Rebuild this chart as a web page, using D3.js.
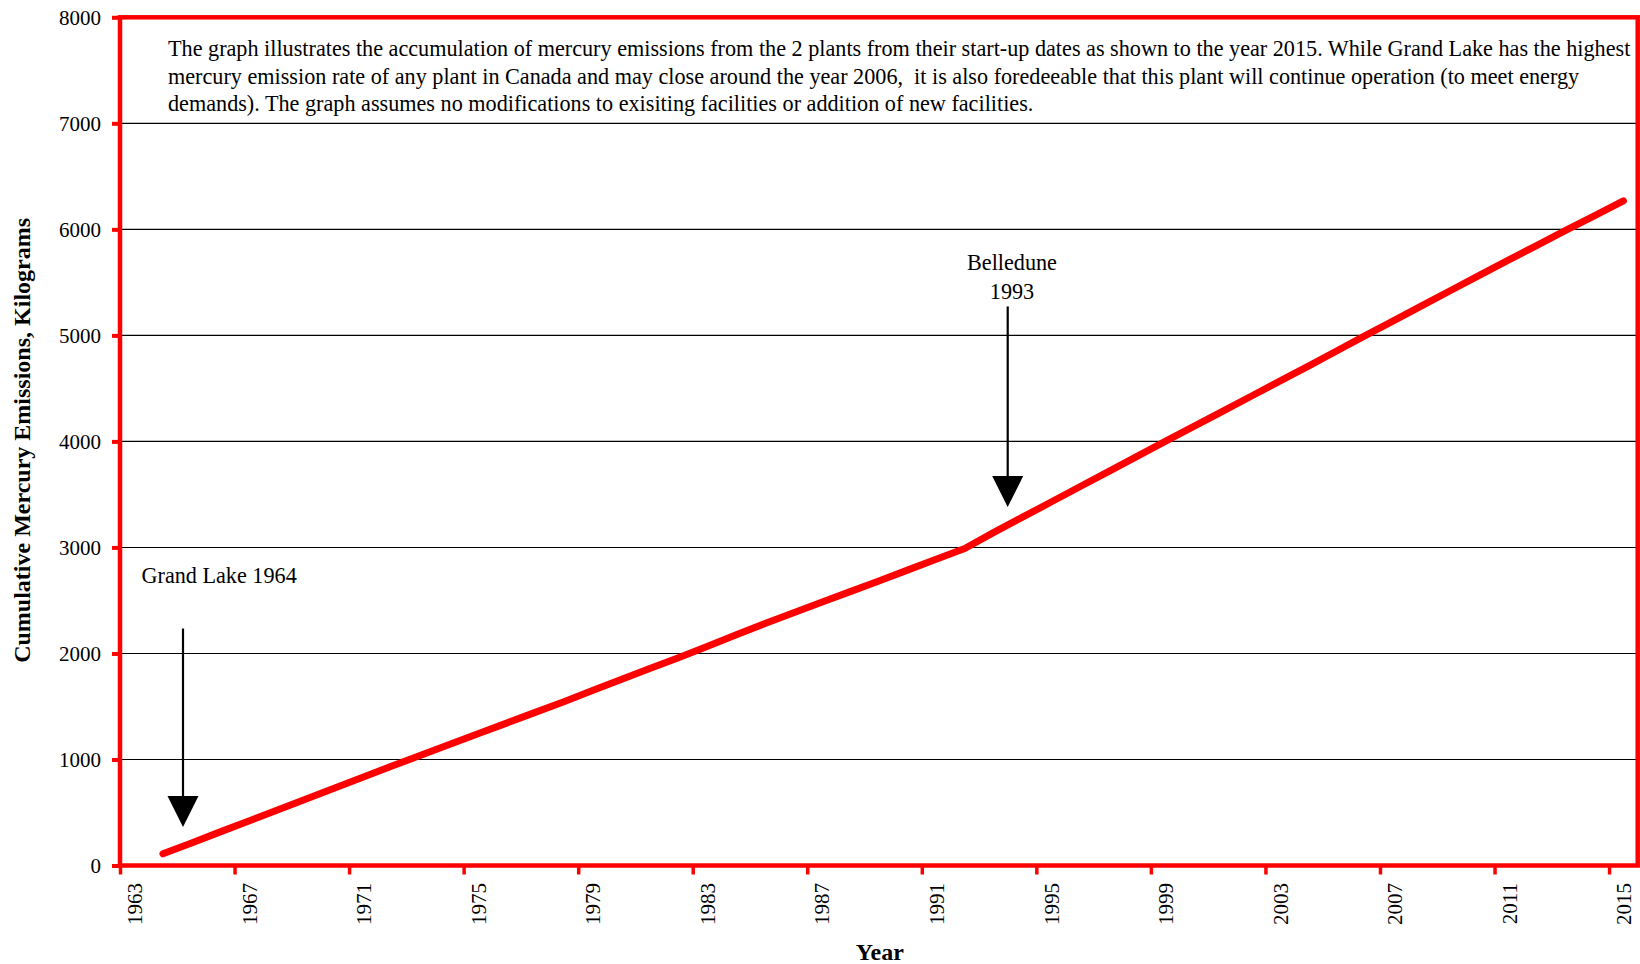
<!DOCTYPE html>
<html>
<head>
<meta charset="utf-8">
<script src="https://cdn.jsdelivr.net/npm/d3@7"></script>
<style>
  html, body { margin: 0; padding: 0; background: #fff; }
  svg { display: block; }
  text { font-family: "Liberation Serif", "Times New Roman", serif; fill: #000; }
</style>
</head>
<body>
<svg id="chart" width="1640" height="964"></svg>
<script>
// Cumulative mercury emissions (kg) by year, Grand Lake from 1964, Belledune added from 1993
const years = d3.range(1964, 2016);
const emissions = [
  110, 213, 317, 420, 524, 627, 731, 834, 938, 1040,
  1141, 1242, 1343, 1444, 1545, 1650, 1755, 1858, 1960, 2066,
  2175, 2280, 2382, 2483, 2583, 2684, 2786, 2888, 2990, 3140,
  3283, 3426, 3570, 3713, 3857, 4000, 4142, 4284, 4426, 4568,
  4710, 4855, 5000, 5142, 5285, 5428, 5570, 5712, 5852, 5992,
  6130, 6268
];
const xTickYears = d3.range(1963, 2016, 4);
const yTickValues = d3.range(0, 8001, 1000);
const gridValues = d3.range(1000, 8000, 1000);

const noteLines = [
  "The graph illustrates the accumulation of mercury emissions from the 2 plants from their start-up dates as shown to the year 2015. While Grand Lake has the highest",
  "mercury emission rate of any plant in Canada and may close around the year 2006,  it is also foredeeable that this plant will continue operation (to meet energy",
  "demands). The graph assumes no modifications to exisiting facilities or addition of new facilities."
];

// Plant start-up markers: label lines, arrow year, arrow start / tip values
const markerNames = [["Grand Lake 1964"], ["Belledune", "1993"]];
const markerYears = [1965.2, 1994.0];
const markerFrom = [2235, 5273];
const markerTo = [364, 3381];

const svg = d3.select("#chart");
const W = 1640, H = 964;
const plotLeft = 120, plotRight = 1637.7, plotTop = 17.3, plotBottom = 865.5;

const x = d3.scaleLinear().domain([1963, 2016]).range([plotLeft, plotRight]);
const y = d3.scaleLinear().domain([0, 8000]).range([plotBottom, plotTop]);

svg.append("rect").attr("width", W).attr("height", H).attr("fill", "#fff");

// horizontal gridlines
svg.append("g")
  .selectAll("line")
  .data(gridValues)
  .join("line")
  .attr("x1", plotLeft).attr("x2", plotRight)
  .attr("y1", d => y(d)).attr("y2", d => y(d))
  .attr("stroke", "#000").attr("stroke-width", 1.1);

// explanatory note
const note = svg.append("text")
  .attr("x", 168)
  .attr("y", 56)
  .style("font-size", "22.2px")
  .style("white-space", "pre");
note.selectAll("tspan")
  .data(noteLines)
  .join("tspan")
  .attr("x", 168)
  .attr("dy", (d, i) => i === 0 ? 0 : 27.7)
  .text(d => d);

// y axis
const yAxis = svg.append("g")
  .attr("transform", `translate(${plotLeft},0)`)
  .call(d3.axisLeft(y).tickValues(yTickValues).tickSize(8).tickPadding(11).tickFormat(d3.format("d")));
yAxis.select(".domain").remove();
yAxis.selectAll(".tick line").attr("stroke", "#f00").attr("stroke-width", 4);
yAxis.selectAll(".tick text")
  .style("font-family", "Liberation Serif")
  .style("font-size", "21px")
  .attr("fill", "#000");

// x axis
const xAxis = svg.append("g")
  .attr("transform", `translate(0,${plotBottom})`)
  .call(d3.axisBottom(x).tickValues(xTickYears).tickSize(9).tickFormat(d3.format("d")));
xAxis.select(".domain").remove();
xAxis.selectAll(".tick line").attr("stroke", "#f00").attr("stroke-width", 3.5);
xAxis.selectAll(".tick text")
  .style("font-family", "Liberation Serif")
  .style("font-size", "21px")
  .attr("fill", "#000")
  .attr("text-anchor", "end")
  .attr("y", null)
  .attr("transform", `translate(${x(1963.5) - x(1963)},17.5) rotate(-90)`)
  .attr("dy", "0.35em");

// plot frame
svg.append("rect")
  .attr("x", plotLeft).attr("y", plotTop)
  .attr("width", plotRight - plotLeft).attr("height", plotBottom - plotTop)
  .attr("fill", "none")
  .attr("stroke", "#f00")
  .attr("stroke-width", 4.5);

// emissions line
const line = d3.line()
  .x((d, i) => x(years[i] + 0.5))
  .y(d => y(d));
svg.append("path")
  .datum(emissions)
  .attr("d", line)
  .attr("fill", "none")
  .attr("stroke", "#f00")
  .attr("stroke-width", 7)
  .attr("stroke-linejoin", "round")
  .attr("stroke-linecap", "round");

// start-up markers
const labelX = [x(1963.75), x(1994.15)];
const labelY = [y(2665), y(5620)];
const labelAnchor = ["start", "middle"];
markerYears.forEach((yr, i) => {
  const ax = x(yr);
  const y0 = y(markerFrom[i]);
  const tip = y(markerTo[i]);
  const headLen = 31, headHalf = 15.5;
  svg.append("line")
    .attr("x1", ax).attr("x2", ax)
    .attr("y1", y0).attr("y2", tip - headLen + 2)
    .attr("stroke", "#000").attr("stroke-width", 2.2);
  svg.append("path")
    .attr("d", `M${ax - headHalf},${tip - headLen}L${ax + headHalf},${tip - headLen}L${ax},${tip}Z`)
    .attr("fill", "#000");
  const t = svg.append("text")
    .attr("x", labelX[i]).attr("y", labelY[i])
    .attr("text-anchor", labelAnchor[i])
    .style("font-size", "22.2px");
  t.selectAll("tspan")
    .data(markerNames[i])
    .join("tspan")
    .attr("x", labelX[i])
    .attr("dy", (d, j) => j === 0 ? 0 : 29)
    .text(d => d);
});

// axis titles
svg.append("text")
  .attr("transform", `translate(30,${(plotTop + plotBottom) / 2 - 1}) rotate(-90)`)
  .attr("text-anchor", "middle")
  .style("font-size", "24px")
  .style("font-weight", "bold")
  .text("Cumulative Mercury Emissions, Kilograms");

svg.append("text")
  .attr("x", (plotLeft + plotRight) / 2 + 1)
  .attr("y", 960)
  .attr("text-anchor", "middle")
  .style("font-size", "24px")
  .style("font-weight", "bold")
  .text("Year");
</script>
</body>
</html>
